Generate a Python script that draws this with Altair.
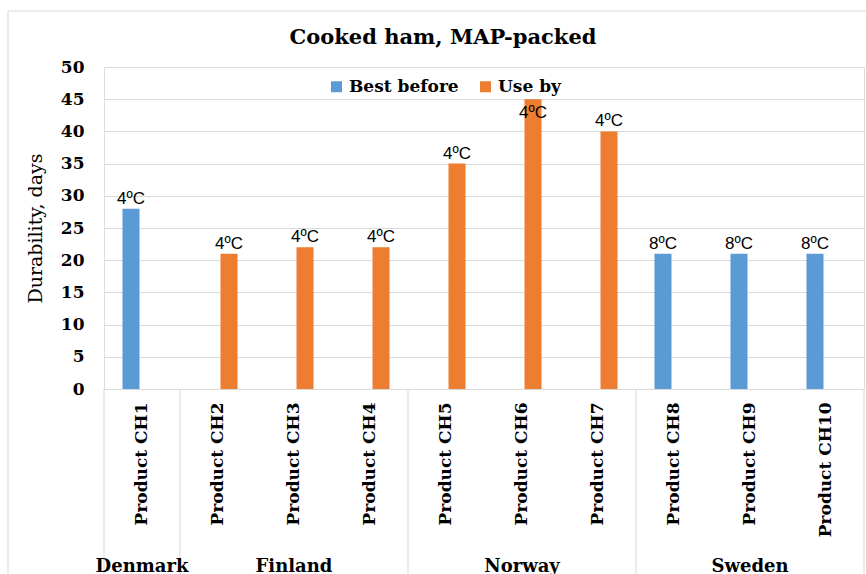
import altair as alt
import pandas as pd

# Durability of MAP-packed cooked ham products by country
products = ["Product CH1", "Product CH2", "Product CH3", "Product CH4", "Product CH5",
            "Product CH6", "Product CH7", "Product CH8", "Product CH9", "Product CH10"]
countries = ["Denmark", "Finland", "Finland", "Finland", "Norway",
             "Norway", "Norway", "Sweden", "Sweden", "Sweden"]
date_type = ["Best before", "Use by", "Use by", "Use by", "Use by",
             "Use by", "Use by", "Best before", "Best before", "Best before"]
days = [28, 21, 22, 22, 35, 45, 40, 21, 21, 21]
storage = ["4ºC", "4ºC", "4ºC", "4ºC", "4ºC", "4ºC", "4ºC", "8ºC", "8ºC", "8ºC"]
y_ticks = [0, 5, 10, 15, 20, 25, 30, 35, 40, 45, 50]

series_order = ["Best before", "Use by"]
series_colors = ["#5b9bd5", "#ed7d31"]
chart_title = "Cooked ham, MAP-packed"

SERIF = "DejaVu Serif"
SANS = "Liberation Sans"
GRID = "#d9d9d9"

W, H = 760, 322
Y_MAX = 50

df = pd.DataFrame({"product": products, "country": countries, "type": date_type,
                   "days": days, "temp": storage})

# country groups: middle product (label anchor) and boundaries (divider lines)
groups = []
for c in dict.fromkeys(countries):
    members = [p for p, cc in zip(products, countries) if cc == c]
    groups.append((c, members))
country_df = pd.DataFrame({"country": [c for c, m in groups],
                           "product": [m[len(m) // 2] for c, m in groups]})
div_left = pd.DataFrame({"product": [m[0] for c, m in groups]})
div_right = pd.DataFrame({"product": [groups[-1][1][-1]]})

x_enc = alt.X("product:N", sort=products,
              scale=alt.Scale(paddingInner=0, paddingOuter=0),
              axis=alt.Axis(title=None, labelAngle=-90, labelFont=SERIF,
                            labelFontWeight="bold", labelFontSize=17,
                            labelColor="#000000", labelPadding=13, ticks=False,
                            domainColor=GRID, grid=False))
x_off = alt.XOffset("type:N", sort=series_order,
                    scale=alt.Scale(domain=series_order, paddingInner=0.227,
                                    paddingOuter=0.84))
y_axis = alt.Axis(title="Durability, days", values=y_ticks, tickCount=len(y_ticks),
                  labelOverlap=False,
                  labelFont=SERIF, labelFontWeight="bold", labelFontSize=17,
                  labelColor="#000000", labelPadding=20, ticks=False,
                  domain=False, gridColor=GRID, titleFont=SERIF,
                  titleFontWeight="normal", titleFontSize=19,
                  titleColor="#000000", titlePadding=15)


def y_enc():
    return alt.Y("days:Q", scale=alt.Scale(domain=[0, Y_MAX], nice=False), axis=y_axis)


bars = alt.Chart(df).mark_bar().encode(
    x=x_enc, xOffset=x_off, y=y_enc(),
    color=alt.Color("type:N", sort=series_order,
                    scale=alt.Scale(domain=series_order, range=series_colors),
                    legend=alt.Legend(title=None, orient="none", direction="horizontal",
                                      legendX=224, legendY=11, symbolType="square",
                                      symbolSize=121, symbolStrokeWidth=0,
                                      labelFont=SERIF, labelFontWeight="bold",
                                      labelFontSize=17, labelColor="#000000",
                                      columnPadding=18, labelOffset=4)),
)

# temperature labels above the bars; a bar reaching the top gets its label inside
labels_above = alt.Chart(df).transform_filter(
    alt.datum.days < Y_MAX - 5).mark_text(
    font=SANS, fontSize=17, baseline="bottom", dy=-1, color="#000000").encode(
    x=alt.X("product:N", sort=products), xOffset=x_off, y=y_enc(), text="temp:N")
labels_inside = alt.Chart(df).transform_filter(
    alt.datum.days >= Y_MAX - 5).mark_text(
    font=SANS, fontSize=17, baseline="top", dy=6, color="#000000").encode(
    x=alt.X("product:N", sort=products), xOffset=x_off, y=y_enc(), text="temp:N")

dividers = alt.Chart(div_left).mark_rule(color=GRID, strokeWidth=1).encode(
    x=alt.X("product:N", sort=products, bandPosition=0),
    y=alt.value(H), y2=alt.value(H + 220))
divider_end = alt.Chart(div_right).mark_rule(color=GRID, strokeWidth=1).encode(
    x=alt.X("product:N", sort=products, bandPosition=1),
    y=alt.value(H), y2=alt.value(H + 220))

country_text = alt.Chart(country_df).mark_text(
    font=SERIF, fontWeight="bold", fontSize=18, baseline="alphabetic",
    color="#000000").encode(
    x=alt.X("product:N", sort=products), y=alt.value(H + 183), text="country:N")

# outer chart border and the chart title, centred on the whole chart
frame = alt.Chart(pd.DataFrame({"k": [0]})).mark_rect(
    fill="transparent", stroke=GRID, strokeWidth=1).encode(
    x=alt.value(-96), x2=alt.value(W + 60), y=alt.value(-56), y2=alt.value(H + 260))
title_text = alt.Chart(pd.DataFrame({"t": [chart_title]})).mark_text(
    font=SERIF, fontSize=21, fontWeight="bold", color="#000000",
    align="center", baseline="alphabetic").encode(
    x=alt.value(W / 2 - 41), y=alt.value(-23), text="t:N")

chart = alt.layer(frame, bars, labels_above, labels_inside, dividers, divider_end,
                  country_text, title_text).properties(
    width=W, height=H,
    padding={"left": 104, "top": 67, "right": 2, "bottom": 185},
    autosize=alt.AutoSizeParams(type="none"),
).configure_view(strokeOpacity=0).configure(background="white")

chart.save("out.html", embed_options={"renderer": "svg", "actions": False})
